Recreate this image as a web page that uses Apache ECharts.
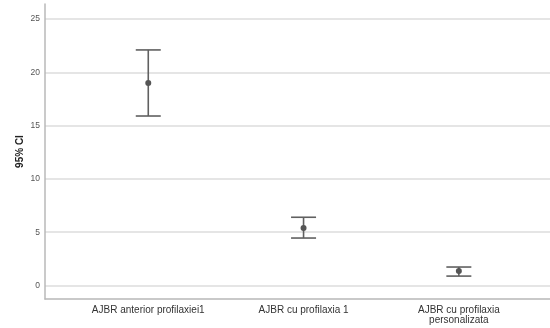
<!DOCTYPE html>
<html>
	<head>
		<meta charset="utf-8" />
		<title>95% CI</title>
		<style>
			html, body { margin: 0; padding: 0; background: #fff; }
			#chart { width: 550px; height: 328px; }
		</style>
	</head>
	<body>
		<div id="chart"></div>
		<script src="https://cdn.jsdelivr.net/npm/echarts@6/dist/echarts.min.js"></script>
		<script type="text/javascript">
			const categories = ['AJBR anterior profilaxiei1', 'AJBR cu profilaxia 1', 'AJBR cu profilaxia\npersonalizata'];
			const means = [19.0, 5.4, 1.35];
			const lower = [15.9, 4.45, 0.88];
			const upper = [22.1, 6.4, 1.73];
			const yTicks = [0, 5, 10, 15, 20, 25];

			const barData = categories.map((c, i) => [i, lower[i], upper[i]]);
			const meanData = categories.map((c, i) => [i, means[i]]);

			const chart = echarts.init(document.getElementById('chart'));
			chart.setOption({
				animation: false,
				grid: { left: 45, right: 0, top: 4, bottom: 29 },
				xAxis: {
					type: 'value',
					min: -0.665,
					max: 2.587,
					splitLine: { show: false },
					axisTick: { show: false },
					axisLine: { onZero: false, lineStyle: { color: '#b8b8b8', width: 1.5 } },
					axisLabel: {
						customValues: [0, 1, 2],
						formatter: v => categories[Math.round(v)],
						color: '#333',
						fontFamily: 'Liberation Sans',
						fontSize: 10,
						lineHeight: 10,
						margin: 6,
					},
				},
				yAxis: {
					type: 'value',
					min: -1.27,
					max: 26.41,
					name: '95% CI',
					nameLocation: 'middle',
					nameGap: 20,
					nameMoveOverlap: false,
					nameTextStyle: { fontWeight: 'bold', fontSize: 10, color: '#222', fontFamily: 'Liberation Sans' },
					axisLine: { show: true, onZero: false, lineStyle: { color: '#b8b8b8', width: 1.5 } },
					axisTick: { show: false, customValues: yTicks },
					axisLabel: { customValues: yTicks, color: '#555', fontSize: 8.5, fontFamily: 'Liberation Sans', margin: 5 },
					splitLine: { lineStyle: { color: '#dcdcdc', width: 1.5 } },
				},
				series: [
					{
						type: 'custom',
						data: barData,
						renderItem: function (params, api) {
							const x = api.value(0);
							const lo = api.coord([x, api.value(1)]);
							const hi = api.coord([x, api.value(2)]);
							const hw = 12.5;
							const style = { stroke: '#606060', lineWidth: 1.6 };
							return {
								type: 'group',
								children: [
									{ type: 'line', shape: { x1: lo[0], y1: lo[1], x2: hi[0], y2: hi[1] }, style },
									{ type: 'line', shape: { x1: hi[0] - hw, y1: hi[1], x2: hi[0] + hw, y2: hi[1] }, style },
									{ type: 'line', shape: { x1: lo[0] - hw, y1: lo[1], x2: lo[0] + hw, y2: lo[1] }, style },
								],
							};
						},
						z: 2,
					},
					{
						type: 'scatter',
						data: meanData,
						symbolSize: 6,
						itemStyle: { color: '#555', opacity: 1 },
						z: 3,
					},
				],
			});
		</script>
	</body>
</html>
